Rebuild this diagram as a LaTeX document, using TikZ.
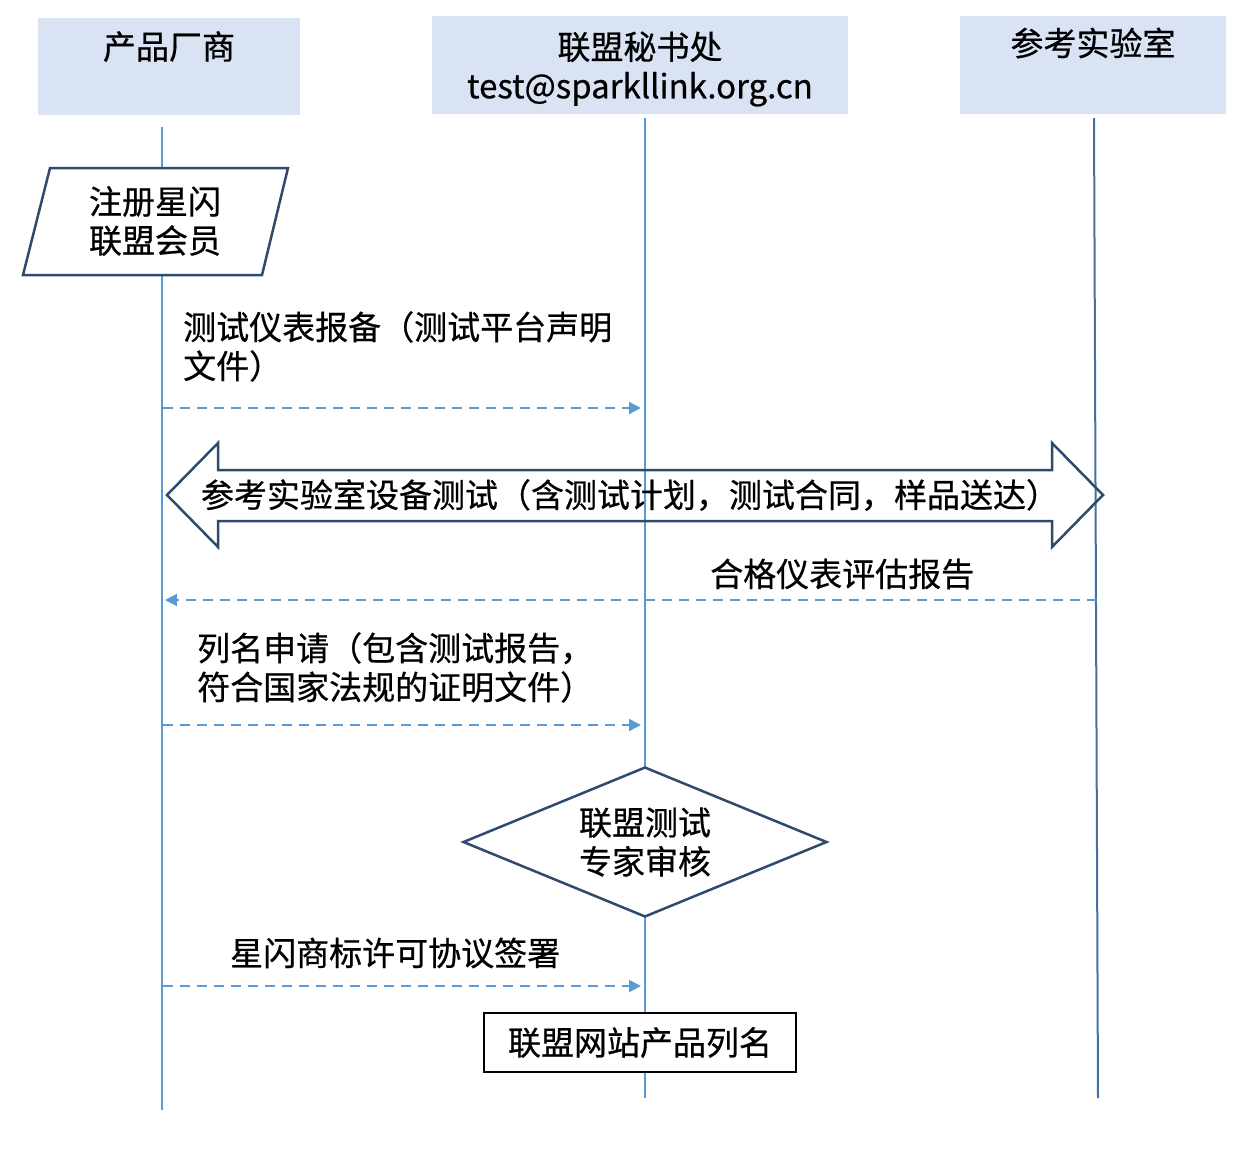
\documentclass[tikz,border=0pt]{standalone}
\usepackage{fontspec}
\setmainfont{Noto Sans CJK SC}[FakeBold=0.6]
\usetikzlibrary{arrows.meta,shapes.geometric}
\definecolor{headfill}{HTML}{DAE3F3}
\definecolor{lifeblue}{HTML}{5B9BD5}
\definecolor{labblue}{HTML}{41719C}
\definecolor{shapeline}{HTML}{2F4B6C}
\begin{document}
\begin{tikzpicture}[x=1pt,y=-1pt,
    font=\fontsize{33}{39}\selectfont,
    head/.style={fill=headfill,inner sep=0pt},
    life/.style={lifeblue,line width=2pt},
    msg/.style={lifeblue,line width=2pt,dash pattern=on 10pt off 7pt,-{Triangle[length=12pt,width=12pt]}},
    lbl/.style={anchor=west,align=left,inner sep=0pt}]
    \useasboundingbox (0,0) rectangle (1240,1168);
    % header boxes
    \node[head,minimum width=262pt,minimum height=97pt] (vendor) at (169,66.5) {};
    \node[head,minimum width=416pt,minimum height=98pt] (office) at (640,65) {};
    \node[head,minimum width=266pt,minimum height=98pt] (lab) at (1093,65) {};
    \node[align=center] (vendortxt) at ([yshift=-4pt]vendor.center) {产品厂商\\\strut};
    \node[align=center] (officetxt) at ([yshift=-4pt]office.center) {联盟秘书处\\test@sparkllink.org.cn};
    \node[align=center] (labtxt) at ([yshift=-2pt]lab.center) {参考实验室\\\strut};
    % lifelines
    \coordinate (v1) at (162,127); \coordinate (v2) at (162,1110);
    \coordinate (s1) at (645,118); \coordinate (s2) at (645,1098);
    \coordinate (l1) at (1094,118); \coordinate (l2) at (1098,1098);
    \draw[life] (v1) -- (v2);
    \draw[life] (s1) -- (s2);
    \draw[life,labblue] (l1) -- (l2);
    % register
    \filldraw[shapeline,fill=white,line width=2.5pt] (50,168) -- (288,168) -- (262,275) -- (23,275) -- cycle;
    \node[align=center] (reg) at (155,221) {注册星闪\\联盟会员};
    % meter filing
    \node[lbl] (filing) at (183,346.5) {测试仪表报备（测试平台声明\\文件）};
    \coordinate (a1) at (163,408); \coordinate (b1) at (641,408);
    \draw[msg] (a1) -- (b1);
    % lab test
    \draw[shapeline,line width=2.5pt] (167,495) -- (218,443) -- (218,470) -- (1052,470) -- (1052,443)
        -- (1103,495) -- (1052,547) -- (1052,521) -- (218,521) -- (218,547) -- cycle;
    \node (labtest) at (630,495) {参考实验室设备测试（含测试计划，测试合同，样品送达）};
    \node[lbl] (report) at (710,574) {合格仪表评估报告};
    \coordinate (a2) at (1097,600); \coordinate (b2) at (165,600);
    \draw[msg] (a2) -- (b2);
    % listing request
    \node[lbl] (apply) at (197,667.5) {列名申请（包含测试报告，\\符合国家法规的证明文件）};
    \coordinate (a3) at (163,725); \coordinate (b3) at (641,725);
    \draw[msg] (a3) -- (b3);
    % review
    \node[diamond,draw=shapeline,fill=white,line width=2.5pt,aspect=2.43,inner sep=0pt,
        minimum width=364pt,minimum height=150pt,align=center] (review) at (645,842) {联盟测试\\专家审核};
    % licence
    \node[lbl] (licence) at (230,953) {星闪商标许可协议签署};
    \coordinate (a4) at (163,986); \coordinate (b4) at (641,986);
    \draw[msg] (a4) -- (b4);
    \node[draw=black,fill=white,line width=1.5pt,minimum width=312pt,minimum height=59pt] (listing) at (640,1042.5) {联盟网站产品列名};
\end{tikzpicture}
\end{document}
